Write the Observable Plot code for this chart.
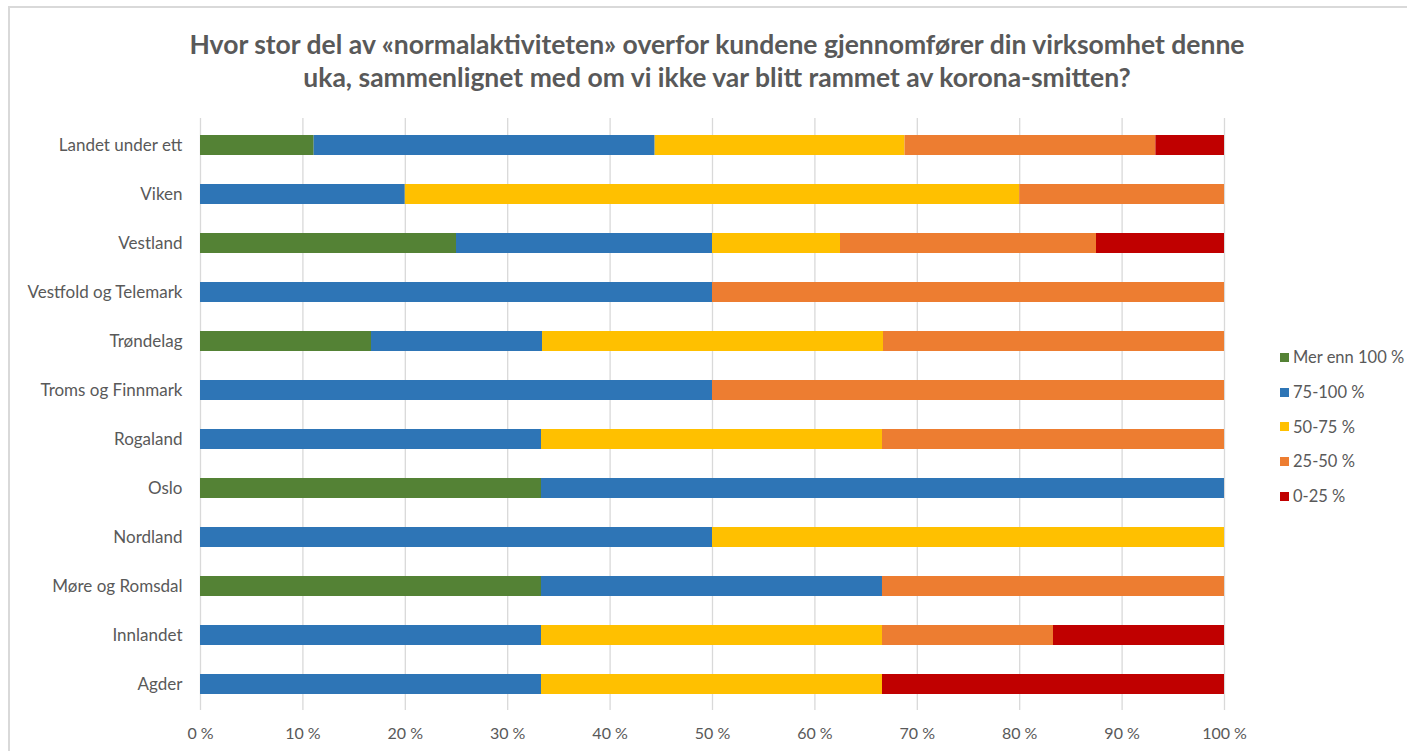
<!DOCTYPE html>
<html>
<head>
<meta charset="utf-8">
<script src="https://cdn.jsdelivr.net/npm/d3@7"></script>
<script src="https://cdn.jsdelivr.net/npm/@observablehq/plot@0.6"></script>
<style>
  html, body { margin: 0; padding: 0; background: #fff; }
  #wrap { position: relative; width: 1407px; height: 751px; overflow: hidden; font-family: Lato, "Open Sans", sans-serif; }
  #frame { position: absolute; left: 8px; top: 6px; width: 1410px; height: 760px; border: 2px solid #d9d9d9; box-sizing: border-box; }
  #title { position: absolute; left: 0; width: 1434px; top: 28px; text-align: center; font-weight: bold; font-size: 26.5px; line-height: 33px; color: #595959; }
  #chart { position: absolute; left: 0; top: 110px; }
  #legend { position: absolute; left: 1280px; top: 340px; font-size: 16.5px; color: #595959; }
  #legend .row { height: 34.7px; display: flex; align-items: center; white-space: nowrap; }
  #legend .sw { width: 9px; height: 9px; margin-right: 4px; flex: none; }
</style>
</head>
<body>
<div id="wrap">
  <div id="frame"></div>
  <div id="title">Hvor stor del av «normalaktiviteten» overfor kundene gjennomfører din virksomhet denne<br>uka, sammenlignet med om vi ikke var blitt rammet av korona-smitten?</div>
  <div id="chart"></div>
  <div id="legend"></div>
</div>
<script>
// Regions, top to bottom
const regions = ["Landet under ett", "Viken", "Vestland", "Vestfold og Telemark", "Trøndelag", "Troms og Finnmark", "Rogaland", "Oslo", "Nordland", "Møre og Romsdal", "Innlandet", "Agder"];
const categories = ["Mer enn 100 %", "75-100 %", "50-75 %", "25-50 %", "0-25 %"];
const colors = ["#548235", "#2E75B6", "#FFC000", "#ED7D31", "#C00000"];
// Shares (%) per region, same order as regions
const merEnn100 = [11.1, 0, 25, 0, 16.7, 0, 0, 33.3, 0, 33.3, 0, 0];
const p75_100  = [33.3, 20, 25, 50, 16.7, 50, 33.3, 66.7, 50, 33.3, 33.3, 33.3];
const p50_75   = [24.4, 60, 12.5, 0, 33.3, 0, 33.3, 0, 50, 0, 33.3, 33.3];
const p25_50   = [24.5, 20, 25, 50, 33.3, 50, 33.4, 0, 0, 33.4, 16.7, 0];
const p0_25    = [6.7, 0, 12.5, 0, 0, 0, 0, 0, 0, 0, 16.7, 33.4];
const xTicks = [0, 10, 20, 30, 40, 50, 60, 70, 80, 90, 100];

const series = [merEnn100, p75_100, p50_75, p25_50, p0_25];
const data = regions.flatMap((r, i) => categories.map((c, k) => ({region: r, cat: c, value: series[k][i]}))).filter(d => d.value > 0);

const chart = Plot.plot({
  width: 1407,
  height: 641,
  marginLeft: 200,
  marginRight: 183,
  marginTop: 8,
  marginBottom: 41,
  style: {fontFamily: "Lato, 'Open Sans', sans-serif", color: "#595959", background: "transparent"},
  x: {domain: [0, 100], ticks: xTicks, tickFormat: d => d + " %", label: null},
  y: {domain: regions, label: null, paddingInner: 0.6, paddingOuter: 0.28},
  color: {domain: categories, range: colors},
  marks: [
    Plot.gridX(xTicks, {stroke: "#d9d9d9", strokeOpacity: 1, strokeWidth: 1.3}),
    Plot.barX(data, Plot.stackX({x: "value", y: "region", fill: "cat", order: categories})),
    Plot.axisX({ticks: xTicks, tickSize: 0, tickPadding: 17, tickFormat: d => d + " %", fontSize: 16, fill: "#595959", label: null}),
    Plot.axisY({tickSize: 0, tickPadding: 18, fontSize: 17, fill: "#595959", label: null})
  ]
});
document.getElementById("chart").appendChild(chart);

const legend = document.getElementById("legend");
categories.forEach((c, k) => {
  const row = document.createElement("div");
  row.className = "row";
  const sw = document.createElement("span");
  sw.className = "sw";
  sw.style.background = colors[k];
  const t = document.createElement("span");
  t.textContent = c;
  row.appendChild(sw); row.appendChild(t);
  legend.appendChild(row);
});
</script>
</body>
</html>
